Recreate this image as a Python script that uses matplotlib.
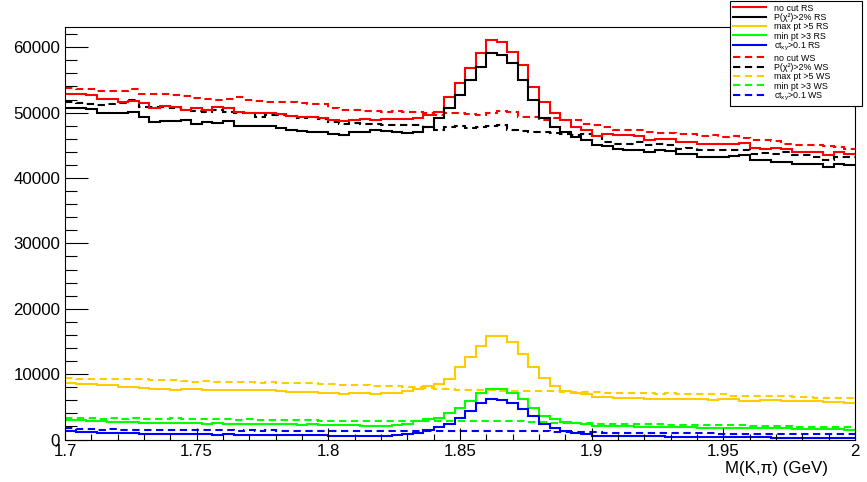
import numpy as np
import matplotlib
matplotlib.use("Agg")
import matplotlib.pyplot as plt
from matplotlib.lines import Line2D
from matplotlib.ticker import MultipleLocator, FixedLocator

plt.rcParams['font.family'] = ['Liberation Sans', 'DejaVu Sans']
plt.rcParams['mathtext.fontset'] = 'custom'
plt.rcParams['mathtext.rm'] = 'Liberation Sans'
plt.rcParams['mathtext.it'] = 'Liberation Sans'

# ---- binning ----
x_min, x_max, n_bins = 1.7, 2.0, 75

# ---- data (counts per bin) ----
nocut_RS = [52810, 52810, 52750, 52090, 52090, 51680, 51850, 51430, 50660, 51020,
            50820, 50410, 50660, 50410, 50820, 50660, 50150, 50000, 50000, 49900,
            49850, 49530, 49380, 49300, 49250,
            48850, 48700, 48900, 49000, 48950, 49100, 49000, 49100, 49200, 49600,
            50120, 52420, 54480, 56780, 59080, 61120, 60860, 59330, 57290, 53960,
            51660, 49870, 48850, 47820, 47320, 46500,
            46800, 46550, 46550, 46400, 45780, 46040, 46040, 45530, 45530, 45270,
            45270, 45270, 45150, 45370, 44650, 44500, 44650, 44500, 43990, 43990,
            43990, 43480, 43990, 43740]

chi2_RS = [50660, 50660, 50600, 49900, 49900, 49980, 50150, 49400, 48520, 48750,
           48650, 48800, 48270, 48520, 48400, 48750, 48020, 48020, 48020, 47900,
           47600, 47350, 47240, 47100, 47050,
           46800, 46550, 47060, 47100, 47320, 47200, 47060, 46900, 47100, 47820,
           49110, 50640, 52680, 54980, 57030, 59170, 58820, 57550, 54980, 51920,
           49110, 47820, 47060, 46290, 45780, 45010,
           44860, 44500, 44350, 44250, 43990, 44250, 44150, 43740, 43740, 43230,
           43230, 43230, 43330, 43480, 42710, 42710, 42460, 42460, 42200, 42200,
           42200, 41690, 42100, 41950]

maxpt_RS = [8610, 8560, 8460, 8350, 8350, 8050, 8050, 7940, 7790, 7790,
            7590, 7690, 7690, 7590, 7540, 7540, 7640, 7590, 7540, 7590,
            7430, 7330, 7330, 7330, 7180, 7180, 7020, 7130, 7130, 7020,
            7130, 7180, 7430, 7790, 8200, 8560, 9300, 11020, 12550, 14340,
            15870, 15870, 14850, 13060, 11020, 9480, 8200, 7430, 7180, 6930,
            6520, 6520, 6420, 6310, 6310, 6160, 6160, 6200, 6160, 6160,
            6200, 6100, 6160, 6260, 5950, 5900, 6010, 6010, 5950, 5900,
            5950, 5900, 5700, 5750, 5650]

minpt_RS = [2990, 2940, 2840, 2840, 2740, 2740, 2690, 2580, 2580, 2530,
            2480, 2580, 2530, 2430, 2480, 2430, 2430, 2380, 2430, 2330,
            2330, 2330, 2280, 2330, 2230, 2170, 2170, 2230, 2120, 2070,
            2070, 2170, 2330, 2840, 3090, 3300, 4000, 4780, 5900, 7180,
            7690, 7690, 7180, 6160, 4880, 3600, 3090, 2740, 2530, 2330,
            2100, 2070, 2020, 2000, 1950, 1920, 1920, 1900, 1880, 1850,
            1820, 1820, 1800, 1820, 1780, 1800, 1760, 1750, 1700, 1650,
            1620, 1600, 1560, 1560, 1520]

ct_RS = [1300, 1200, 1150, 1050, 1050, 990, 940, 890, 890, 840,
         790, 840, 790, 790, 740, 790, 740, 740, 690, 740,
         690, 690, 640, 690, 640, 590, 590, 590, 540, 540,
         540, 640, 790, 1050, 1400, 1920, 2430, 3250, 4370, 5650,
         6160, 6010, 5650, 4620, 3600, 2330, 1710, 1300, 1050, 790,
         600, 560, 540, 520, 500, 480, 460, 440, 420, 400,
         380, 390, 370, 350, 340, 330, 320, 300, 300, 290,
         280, 270, 260, 250, 250]

nocut_WS = [53720, 53600, 53550, 53360, 53360, 53250, 53620, 52900, 52850, 52800,
            52700, 52500, 52250, 52090, 52000, 52050, 52350, 51900, 51850, 51700,
            51680, 51650, 51450, 51300, 51350,
            50640, 50380, 50380, 50280, 50280, 50130, 50280, 50130, 50130, 49870,
            49620, 49970, 49870, 49770, 49620, 49870, 50280, 50130, 49260, 49260,
            48950, 49110, 48850, 48850, 48230, 48080,
            47830, 47420, 47320, 47320, 47060, 46900, 46900, 46800, 46700, 46400,
            46550, 46290, 46400, 46190, 45880, 45780, 45680, 45270, 45020, 45020,
            45020, 44860, 44760, 44400]

chi2_WS = [51680, 51400, 51330, 51150, 51250, 51430, 51940, 50910, 50850, 50850,
           50660, 50410, 50250, 50150, 50410, 50150, 49900, 49900, 49380, 49650,
           49600, 49550, 49250, 49400, 49000,
           48590, 48330, 48430, 48330, 48230, 48080, 48180, 48080, 48080, 47820,
           47320, 47820, 47920, 47720, 47820, 47920, 48080, 47320, 47220, 47060,
           47060, 46900, 46800, 46550, 46700, 46400,
           45530, 45270, 45270, 45530, 45020, 45270, 45020, 44500, 44650, 44250,
           44350, 44250, 44350, 44250, 43740, 43840, 43740, 43990, 43480, 43480,
           43230, 42710, 43230, 43230]

maxpt_WS = [9380, 9330, 9230, 9280, 9180, 9230, 9330, 9180, 9070, 9130,
            9070, 8970, 8870, 8920, 8870, 8820, 8870, 8770, 8710, 8770,
            8710, 8660, 8710, 8610, 8560, 8460, 8350, 8350, 8300, 8250,
            8200, 8150, 8100, 8050, 7940, 7790, 7690, 7590, 7590, 7600,
            7590, 7430, 7430, 7450, 7430, 7400, 7430, 7280, 7280, 7250,
            7280, 7180, 7150, 7180, 7100, 7050, 7020, 7050, 6930, 6950,
            6930, 6900, 6930, 6670, 6700, 6670, 6650, 6670, 6600, 6500,
            6450, 6400, 6420, 6350, 6300]

minpt_WS = [3350, 3300, 3250, 3190, 3300, 3190, 3250, 3190, 3140, 3190,
            3250, 3140, 3090, 3140, 3090, 3140, 3040, 3090, 3040, 3040,
            2990, 3040, 2940, 2990, 2890, 2840, 2890, 2840, 2840, 2790,
            2840, 2840, 2790, 2840, 2840, 2790, 2840, 2840, 2840, 2900,
            2840, 2800, 2840, 2790, 2690, 2640, 2600, 2580, 2530, 2480,
            2400, 2330, 2330, 2330, 2300, 2330, 2300, 2280, 2250, 2200,
            2200, 2170, 2170, 2150, 2170, 2120, 2100, 2070, 2000, 1950,
            1950, 1920, 1920, 1900, 1870]

ct_WS = [1710, 1610, 1560, 1510, 1560, 1510, 1460, 1510, 1460, 1400,
         1460, 1510, 1400, 1460, 1400, 1400, 1350, 1400, 1350, 1400,
         1350, 1300, 1350, 1300, 1350, 1300, 1300, 1250, 1300, 1300,
         1250, 1300, 1300, 1250, 1300, 1250, 1300, 1300, 1300, 1280,
         1300, 1290, 1300, 1280, 1250, 1250, 1200, 1200, 1150, 1100,
         1100, 1050, 1050, 1050, 1000, 1000, 1000, 1000, 950, 950,
         950, 950, 900, 900, 900, 900, 900, 850, 850, 850,
         850, 800, 800, 800, 800]

labels_RS = ["no cut RS", "P(χ²)>2% RS", "max pt >5 RS", "min pt >3 RS", r"ct$_{xy}$>0.1 RS"]
labels_WS = ["no cut WS", "P(χ²)>2% WS", "max pt >5 WS", "min pt >3 WS", r"ct$_{xy}$>0.1 WS"]
colors = ["#ff0000", "#000000", "#ffcc00", "#00ff00", "#0000ff"]

x_ticks = [1.7, 1.75, 1.8, 1.85, 1.9, 1.95, 2.0]
x_ticklabels = ["1.7", "1.75", "1.8", "1.85", "1.9", "1.95", "2"]
y_ticks = [0, 10000, 20000, 30000, 40000, 50000, 60000]

# ---- figure ----
W, H = 867, 482
fig = plt.figure(figsize=(W / 100, H / 100), dpi=100)
ax = fig.add_axes([65 / W, (H - 439.5) / H, 790 / W, (439.5 - 27) / H])

edges = np.linspace(x_min, x_max, n_bins + 1)
lw = 1.5
rs = [nocut_RS, chi2_RS, maxpt_RS, minpt_RS, ct_RS]
ws = [nocut_WS, chi2_WS, maxpt_WS, minpt_WS, ct_WS]
dash = (0, (3.5, 2.2))
for vals, c in zip(ws, colors):
    ax.stairs(np.array(vals), edges, baseline=None, color=c, lw=lw, linestyle=dash)
for vals, c in zip(rs, colors):
    ax.stairs(np.array(vals), edges, baseline=None, color=c, lw=lw)

ax.set_xlim(x_min, x_max)
ax.set_ylim(0, 63100)
ax.xaxis.set_major_locator(FixedLocator(x_ticks))
ax.set_xticklabels(x_ticklabels)
ax.xaxis.set_minor_locator(MultipleLocator(0.01))
ax.yaxis.set_major_locator(FixedLocator(y_ticks))
ax.set_yticklabels([str(v) for v in y_ticks])
ax.yaxis.set_minor_locator(MultipleLocator(2000))

ax.tick_params(axis='both', which='both', direction='in', top=False, right=False,
               width=0.8, labelsize=12.2, colors='black')
ax.tick_params(axis='y', which='major', length=16.6, pad=3.5)
ax.tick_params(axis='y', which='minor', length=8.6)
ax.tick_params(axis='x', which='major', length=8.9, pad=3)
ax.tick_params(axis='x', which='minor', length=4.4)
for s in ax.spines.values():
    s.set_linewidth(0.8)

fig.text(828 / W, 1 - 468 / H, "M(K,π) (GeV)", ha='right', va='center', fontsize=12.2)

handles = [Line2D([], [], color=c, lw=lw) for c in colors] + \
          [Line2D([], [], color=c, lw=lw, linestyle=dash) for c in colors]
leg = ax.legend(handles, labels_RS + labels_WS, loc='upper left', mode='expand',
                bbox_to_anchor=(730 / W, 1 - 107 / H, 132 / W, 106 / H),
                bbox_transform=fig.transFigure,
                fontsize=6.4, frameon=True, fancybox=False, edgecolor='black',
                framealpha=1, borderpad=0.3, labelspacing=0.04, handlelength=3.7,
                handleheight=0.8, handletextpad=0.9, borderaxespad=0)
leg.get_frame().set_linewidth(0.8)

fig.savefig("out.png", dpi=100)
